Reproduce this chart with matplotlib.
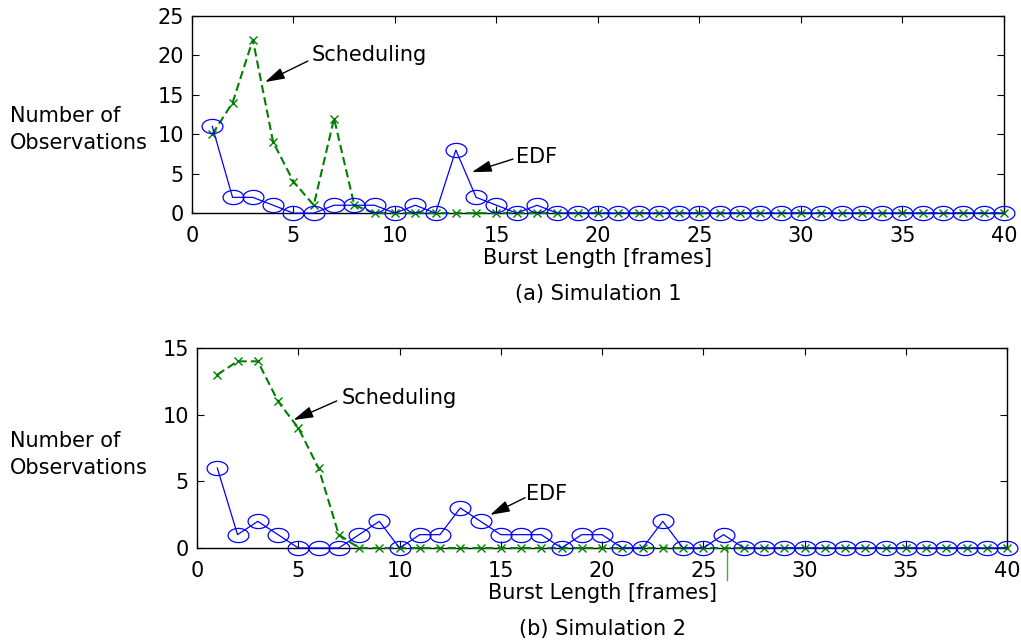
import numpy as np
import matplotlib
matplotlib.use("Agg")
import matplotlib.pyplot as plt
from matplotlib.path import Path

plt.rcParams['font.family'] = ['DejaVu Sans']

burst = list(range(1, 41))

edf1 = [11, 2, 2, 1, 0, 0, 1, 1, 1, 0, 1, 0, 8, 2, 1, 0, 1] + [0] * 23
sched1 = [10, 14, 22, 9, 4, 1, 12, 1, 0] + [0] * 31

edf2 = [6, 1, 2, 1, 0, 0, 0, 1, 2, 0, 1, 1, 3, 2, 1, 1, 1, 0, 1, 1,
        0, 0, 2, 0, 0, 1] + [0] * 14
sched2 = [13, 14, 14, 11, 9, 6, 1, 0] + [0] * 32

xticks = [0, 5, 10, 15, 20, 25, 30, 35, 40]
yticks1 = [0, 5, 10, 15, 20, 25]
yticks2 = [0, 5, 10, 15]

BLUE = '#0000ff'
GREEN = '#008000'
FS = 15

# elliptical marker (wider than tall)
t = np.linspace(0, 2 * np.pi, 60)
ell = Path(np.column_stack([np.cos(t), 0.68 * np.sin(t)]), closed=True)

fig = plt.figure(figsize=(10.21, 6.4), dpi=100)
ax1 = fig.add_axes([0.188, 0.667, 0.7953, 0.308])
ax2 = fig.add_axes([0.193, 0.14375, 0.7933, 0.3125])


def style(ax, yt, ymax):
    ax.set_xlim(0, 40)
    ax.set_ylim(0, ymax)
    ax.set_xticks(xticks)
    ax.set_yticks(yt)
    ax.tick_params(direction='in', top=True, right=True, length=5,
                   width=0.8, labelsize=FS)
    ax.tick_params(axis='x', pad=9.5)
    ax.tick_params(axis='y', pad=5.8)
    for s in ax.spines.values():
        s.set_linewidth(1.0)


for ax, edf, sched, yt, ymax in [(ax1, edf1, sched1, yticks1, 25),
                                 (ax2, edf2, sched2, yticks2, 15)]:
    ax.plot(burst, sched, color=GREEN, ls='--', lw=1.5, marker='x',
            ms=6, mew=1.0, clip_on=False, zorder=3, dashes=(4, 2))
    ax.plot(burst, edf, color=BLUE, lw=0.9, marker=ell, ms=15,
            mfc='none', mec=BLUE, mew=0.9, clip_on=False, zorder=4)
    style(ax, yt, ymax)
    ax.set_xlabel('Burst Length [frames]', fontsize=FS)
    ax.xaxis.label.set_va('baseline')

ax1.xaxis.set_label_coords(0.5, -51 / 197)
ax2.xaxis.set_label_coords(0.5, -51 / 200)

ax1.text(0.5, -87 / 197, '(a) Simulation 1', transform=ax1.transAxes,
         ha='center', va='baseline', fontsize=FS)
ax2.text(0.5, -87 / 200, '(b) Simulation 2', transform=ax2.transAxes,
         ha='center', va='baseline', fontsize=FS)

for yb in (122, 447):
    fig.text(10 / 1021, 1 - yb / 640, 'Number of', ha='left',
             va='baseline', fontsize=FS)
    fig.text(10 / 1021, 1 - (yb + 27) / 640, 'Observations', ha='left',
             va='baseline', fontsize=FS)

arrow = dict(arrowstyle='-|>,head_length=1.2,head_width=0.35',
             color='black', lw=1.0, shrinkA=0, shrinkB=0)


def label(ax, txt, tpos, tail, tip):
    ax.text(tpos[0], tpos[1], txt, ha='left', va='baseline', fontsize=FS)
    ax.annotate('', xy=tip, xytext=tail, arrowprops=arrow)


label(ax1, 'Scheduling', (5.89, 19.29), (5.71, 19.29), (3.6, 16.62))
label(ax1, 'EDF', (15.96, 6.35), (15.81, 6.85), (13.79, 5.2))
label(ax2, 'Scheduling', (7.14, 10.8), (6.9, 11.03), (4.76, 9.6))
label(ax2, 'EDF', (16.26, 3.6), (16.2, 3.77), (14.47, 2.48))

# small stray green stroke below the second axis
ax2.plot([26.17, 26.17], [0, -2.4], color=GREEN, lw=1.0, alpha=0.7,
         clip_on=False)

fig.savefig('out.png', dpi=100)
